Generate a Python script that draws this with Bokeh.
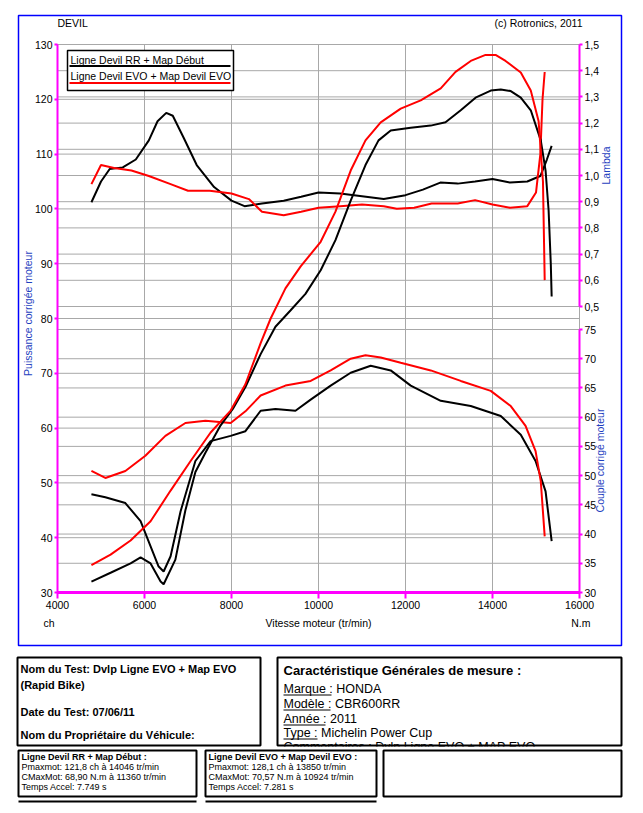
from bokeh.plotting import figure
from bokeh.models import (Range1d, LinearAxis, FixedTicker,
                          CustomJSTickFormatter, Label, BoxAnnotation)
from bokeh.embed import file_html
from bokeh.resources import INLINE

# ---------------- data ----------------
x_ticks = [4000, 6000, 8000, 10000, 12000, 14000, 16000]
power_ticks = [30, 40, 50, 60, 70, 80, 90, 100, 110, 120, 130]
lambda_ticks = [0.5, 0.6, 0.7, 0.8, 0.9, 1.0, 1.1, 1.2, 1.3, 1.4, 1.5]
torque_ticks = [30, 35, 40, 45, 50, 55, 60, 65, 70, 75]

# Power (ch) - Ligne Devil RR + Map Debut (black)
rpm_p_rr = [4780, 5220, 5680, 5910, 6140, 6370, 6440, 6710, 6940, 7170, 7400,
            7750, 8030, 8320, 8670, 9010, 9360, 9700, 10050, 10390, 10740,
            11080, 11380, 11660, 12120, 12580, 12920, 13270, 13610, 13960,
            14190, 14420, 14650, 14880, 15110, 15220, 15290, 15340, 15360]
p_rr = [32, 33.6, 35.3, 36.4, 35.3, 32, 31.5, 36, 45, 52, 55.5,
        60.5, 63.5, 67.5, 73.5, 78.5, 81.5, 84.5, 88.8, 94.3, 101.5,
        108, 112.5, 114.3, 114.8, 115.2, 115.8, 118, 120.3, 121.6,
        121.8, 121.5, 120.3, 118, 112.5, 107, 99.7, 90, 84]

# Power (ch) - Ligne Devil EVO + Map Devil EVO (red)
rpm_p_evo = [4780, 5220, 5680, 6140, 6600, 7060, 7520, 7980, 8320, 8670, 8900,
             9240, 9590, 10050, 10390, 10740, 11080, 11430, 11890, 12350,
             12810, 13150, 13500, 13840, 14070, 14300, 14650, 14880, 15060,
             15160, 15200]
p_evo = [35, 36.9, 39.5, 43, 48.6, 54, 59.2, 63.2, 68, 75.5, 80,
         85.5, 89.5, 94, 99.5, 107, 112.5, 115.8, 118.3, 119.8,
         122, 125, 127, 128.1, 128.1, 127, 124.9, 121.6, 116,
         105, 87]

# Torque (N.m) - black
rpm_t_rr = [4780, 5100, 5560, 5910, 6140, 6320, 6440, 6600, 6830, 7170, 7520,
            7980, 8320, 8670, 9010, 9470, 9820, 10280, 10740, 11200, 11660,
            12120, 12810, 13500, 14190, 14650, 14990, 15220, 15360]
t_rr = [46.8, 46.3, 45.3, 42.2, 37.9, 34.5, 33.6, 36.2, 43.9, 52.5, 55.9,
        56.8, 57.6, 61.1, 61.4, 61.1, 63, 65.4, 67.6, 68.8, 68,
        65.4, 62.8, 61.9, 60.2, 57, 52.5, 47.3, 38.8]

# Torque (N.m) - red
rpm_t_evo = [4780, 5100, 5560, 6020, 6480, 6940, 7400, 7980, 8320, 8670, 9240,
             9820, 10280, 10740, 11080, 11430, 11890, 12580, 13270, 13960,
             14420, 14760, 14990, 15110, 15200]
t_evo = [50.8, 49.6, 50.8, 53.4, 56.8, 59, 59.4, 59, 61, 63.7, 65.4,
         66.2, 68, 70, 70.6, 70.2, 69.3, 68, 66.2, 64.5,
         61.9, 58.5, 54.2, 49, 39.6]

# Lambda - black
rpm_l_rr = [4780, 5000, 5200, 5500, 5800, 6100, 6300, 6500, 6650, 6900, 7200,
            7600, 8000, 8300, 8700, 9200, 9600, 10000, 10500, 11000, 11500,
            12000, 12400, 12800, 13200, 13600, 14000, 14400, 14800, 15100,
            15250, 15360]
l_rr = [0.898, 0.977, 1.025, 1.031, 1.061, 1.134, 1.207, 1.239, 1.228, 1.144,
        1.040, 0.956, 0.904, 0.883, 0.893, 0.904, 0.919, 0.935, 0.931, 0.921,
        0.910, 0.925, 0.946, 0.973, 0.969, 0.977, 0.987, 0.973, 0.977, 0.998,
        1.061, 1.113]

# Lambda - red
rpm_l_evo = [4780, 5000, 5300, 5700, 6100, 6600, 7000, 7500, 8000, 8400, 8700,
             9200, 9600, 10000, 10500, 11000, 11500, 11800, 12200, 12600,
             13200, 13600, 14000, 14400, 14800, 15000, 15100, 15150, 15200]
l_evo = [0.967, 1.04, 1.029, 1.019, 0.998, 0.967, 0.942, 0.942, 0.931, 0.910,
         0.862, 0.848, 0.862, 0.877, 0.883, 0.889, 0.883, 0.873, 0.877, 0.893,
         0.893, 0.906, 0.889, 0.877, 0.883, 0.935, 1.082, 1.291, 1.395]

legend_labels = ["Ligne Devil RR + Map Début", "Ligne Devil EVO + Map Devil EVO"]

# ---------------- layout constants (page pixels) ----------------
W, H = 635, 805
PL, PR, PT, PB = 57, 579, 44, 592          # plot area
LAM_TOP_Y, LAM_BOT_Y = 44, 306            # lambda 1.5 / 0.5
TQ_TOP_Y, TQ_BOT_Y = 329, 592             # torque 75 / 30

FONT = "Liberation Sans"
MAG = "#ff00ff"
GRID = "#a8a8a8"
BLUE_TXT = "#1f3fbf"


def make_range(v_lo, v_hi, y_lo, y_hi):
    """linear range for a vertical scale: v_lo at page y_lo, v_hi at page y_hi"""
    ppu = (y_lo - y_hi) / (v_hi - v_lo)
    return Range1d(v_lo - (H - y_lo) / ppu, v_hi + y_hi / ppu)


k = (x_ticks[-1] - x_ticks[0]) / (PR - PL)
p = figure(width=W, height=H, output_backend="svg", toolbar_location=None,
           x_range=Range1d(0, W), y_range=Range1d(H, 0),
           x_axis_type=None, y_axis_type=None, min_border=0)
p.extra_x_ranges = {"rpm": Range1d(x_ticks[0] - PL * k, x_ticks[0] + (W - PL) * k)}
p.extra_y_ranges = {
    "power": make_range(power_ticks[0], power_ticks[-1], PB, PT),
    "lambda": make_range(lambda_ticks[0], lambda_ticks[-1], LAM_BOT_Y, LAM_TOP_Y),
    "torque": make_range(torque_ticks[0], torque_ticks[-1], TQ_BOT_Y, TQ_TOP_Y),
}
p.outline_line_color = None
p.background_fill_color = "white"
p.border_fill_color = "white"

# ---- grid lines (through the scales) ----
n = len(x_ticks)
p.segment(x0=x_ticks, x1=x_ticks, y0=[power_ticks[0]] * n, y1=[power_ticks[-1]] * n,
          x_range_name="rpm", y_range_name="power", color=GRID, line_width=1)
for ticks, rn in [(power_ticks, "power"), (lambda_ticks, "lambda"), (torque_ticks, "torque")]:
    m = len(ticks)
    p.segment(x0=[x_ticks[0]] * m, x1=[x_ticks[-1]] * m, y0=ticks, y1=ticks,
              x_range_name="rpm", y_range_name=rn, color=GRID, line_width=1)

# ---- curves ----
p.line(rpm_l_rr, l_rr, x_range_name="rpm", y_range_name="lambda", color="black", line_width=2)
p.line(rpm_l_evo, l_evo, x_range_name="rpm", y_range_name="lambda", color="red", line_width=2)
p.line(rpm_t_rr, t_rr, x_range_name="rpm", y_range_name="torque", color="black", line_width=2)
p.line(rpm_t_evo, t_evo, x_range_name="rpm", y_range_name="torque", color="red", line_width=2)
p.line(rpm_p_rr, p_rr, x_range_name="rpm", y_range_name="power", color="black", line_width=2)
p.line(rpm_p_evo, p_evo, x_range_name="rpm", y_range_name="power", color="red", line_width=2)


# ---- axes ----
def style_axis(ax, line_w=2, tick_out=3):
    ax.axis_line_color = MAG
    ax.axis_line_width = line_w
    ax.major_tick_line_color = MAG
    ax.major_tick_line_width = 2
    ax.major_tick_out = tick_out
    ax.major_tick_in = 0
    ax.minor_tick_out = 0
    ax.minor_tick_in = 0
    ax.major_label_text_font = FONT
    ax.major_label_text_font_size = "10.5px"
    ax.major_label_text_color = "black"
    ax.major_label_standoff = 2


xaxis = LinearAxis(x_range_name="rpm", y_range_name="power",
                   ticker=FixedTicker(ticks=x_ticks), bounds=(x_ticks[0], x_ticks[-1]),
                   fixed_location=power_ticks[0])
style_axis(xaxis, line_w=3, tick_out=6)
p.add_layout(xaxis, "below")

yaxis = LinearAxis(x_range_name="rpm", y_range_name="power",
                   ticker=FixedTicker(ticks=power_ticks),
                   bounds=(power_ticks[0], power_ticks[-1]), fixed_location=x_ticks[0])
style_axis(yaxis)
p.add_layout(yaxis, "left")

laxis = LinearAxis(x_range_name="rpm", y_range_name="lambda",
                   ticker=FixedTicker(ticks=lambda_ticks),
                   bounds=(lambda_ticks[0], lambda_ticks[-1]), fixed_location=x_ticks[-1],
                   formatter=CustomJSTickFormatter(code="return tick.toFixed(1).replace('.', ',');"))
style_axis(laxis)
p.add_layout(laxis, "right")

taxis = LinearAxis(x_range_name="rpm", y_range_name="torque",
                   ticker=FixedTicker(ticks=torque_ticks),
                   bounds=(torque_ticks[0], torque_ticks[-1]), fixed_location=x_ticks[-1])
style_axis(taxis)
p.add_layout(taxis, "right")


# ---------------- annotations in page pixel coordinates ----------------
def label(text, px, py, size="10.5px", align="left", color="black",
          bold=False, angle=0, baseline="middle"):
    p.add_layout(Label(x=px, y=py, text=text, text_font=FONT, text_font_size=size,
                       text_color=color, text_align=align, text_baseline=baseline,
                       text_font_style="bold" if bold else "normal",
                       angle=angle, angle_units="deg"))


def box(x0, y0, x1, y1, line_color="black", line_width=2, fill=None):
    p.add_layout(BoxAnnotation(left=x0, right=x1, top=y0, bottom=y1,
                               fill_color=fill if fill else "white",
                               fill_alpha=1 if fill else 0,
                               line_color=line_color, line_width=line_width,
                               line_alpha=1, level="annotation"))


# outer blue frame
box(18, 15, 621, 645, line_color="#0000ff", line_width=1.5)

label("DEVIL", 57, 22)
label("(c) Rotronics, 2011", 582, 22, align="right")
label("Puissance corrigée moteur", 27, 313, color=BLUE_TXT, angle=90, align="center")
label("Lambda", 605, 165, color=BLUE_TXT, angle=90, align="center")
label("Couple corrigé moteur", 599, 460, color=BLUE_TXT, angle=90, align="center")
label("ch", 43, 622)
label("Vitesse moteur (tr/min)", 318, 622, align="center")
label("N.m", 590, 622, align="right")

# legend
box(67, 50, 233, 90, line_color="black", line_width=1.5, fill="white")
label(legend_labels[0], 70, 59)
box(69, 64.5, 230, 66.5, line_color=None, line_width=0, fill="black")
label(legend_labels[1], 70, 75)
box(69, 81.5, 230, 83.5, line_color=None, line_width=0, fill="red")

# info boxes
box(17, 657, 260, 745)
label("Nom du Test:  Dvlp Ligne EVO + Map EVO", 20, 668, size="11px", bold=True)
label("(Rapid Bike)", 20, 684, size="11px", bold=True)
label("Date du Test:  07/06/11", 20, 711, size="11px", bold=True)
label("Nom du Propriétaire du Véhicule:", 20, 734, size="11px", bold=True)

label("Caractéristique Générales de mesure :", 283, 670, size="13px", bold=True)
rows = [("Marque :", " HONDA", 688, 48), ("Modèle :", " CBR600RR", 703, 47),
        ("Année :", " 2011", 718, 42), ("Type :", " Michelin Power Cup", 732, 34),
        ("Commentaires :", " Dvlp Ligne EVO + MAP EVO", 746, 86)]
for kk, v, yy, w in rows:
    label(kk + v, 283, yy, size="12.5px")
    box(283, yy + 6, 283 + w, yy + 7, line_color=None, line_width=0, fill="black")
box(276, 746, 622, 757, line_color=None, line_width=0, fill="white")
box(277, 657, 621, 745)

box(18, 750, 196, 796)
label("Ligne Devil RR + Map Début :", 21, 756, size="9px", bold=True)
label("Pmaxmot: 121,8 ch à 14046 tr/min", 21, 766, size="9px")
label("CMaxMot: 68,90 N.m à 11360 tr/min", 21, 776, size="9px")
label("Temps Accel: 7.749 s", 21, 786, size="9px")
box(18, 800, 196, 802, line_color=None, line_width=0, fill="black")

box(205, 750, 376, 796)
label("Ligne Devil EVO + Map Devil EVO :", 208, 756, size="9px", bold=True)
label("Pmaxmot: 128,1 ch à 13850 tr/min", 208, 766, size="9px")
label("CMaxMot: 70,57 N.m à 10924 tr/min", 208, 776, size="9px")
label("Temps Accel: 7.281 s", 208, 786, size="9px")
box(205, 800, 376, 802, line_color=None, line_width=0, fill="black")

box(383, 750, 621, 796)

open("out.html", "w").write(file_html(p, INLINE))
